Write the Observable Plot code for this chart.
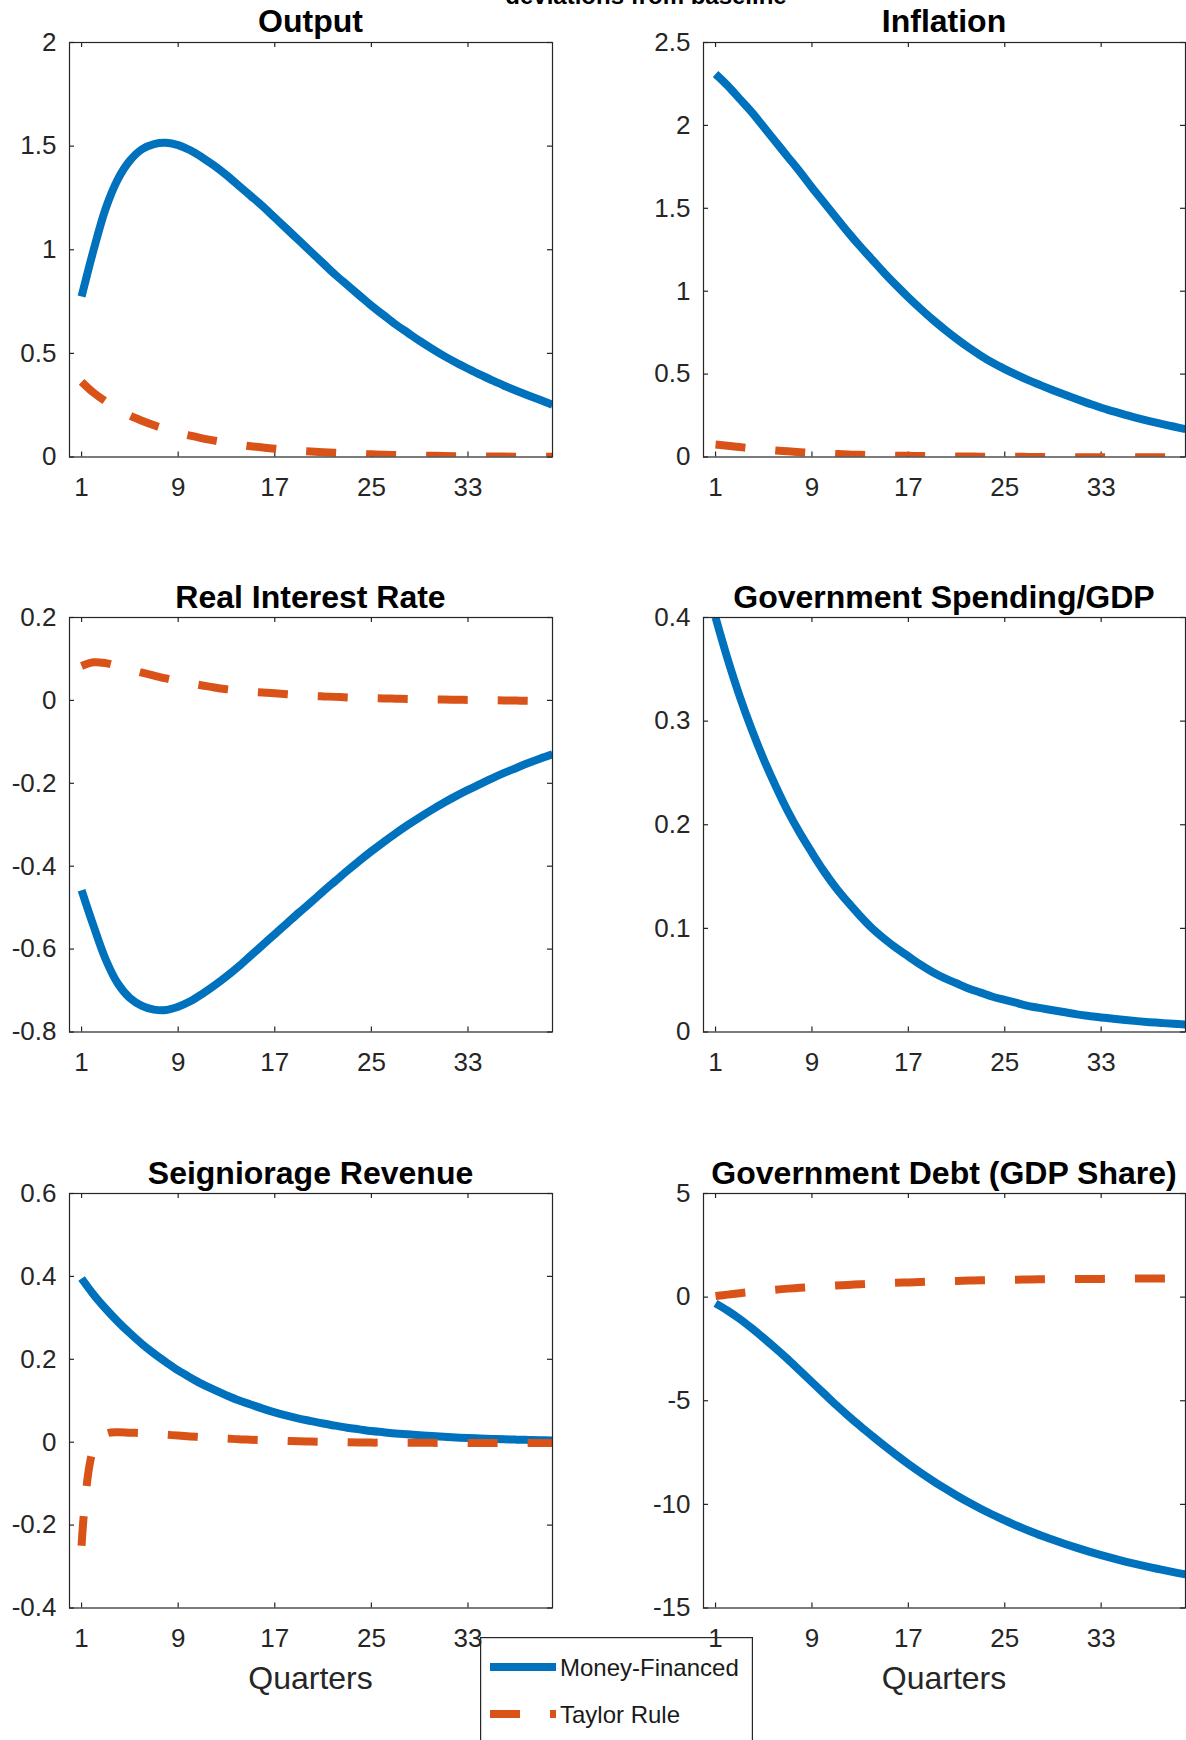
<!DOCTYPE html>
<html><head><meta charset="utf-8">
<script src="https://cdn.jsdelivr.net/npm/d3@7"></script>
<script src="https://cdn.jsdelivr.net/npm/@observablehq/plot@0.6"></script>
<style>
html,body{margin:0;padding:0;background:#fff;}
#fig{position:relative;width:1186px;height:1740px;overflow:hidden;background:#fff;}
</style></head><body><div id="fig"></div>
<script>
const quarters = [1,2,3,4,5,6,7,8,9,10,11,12,13,14,15,16,17,18,19,20,21,22,23,24,25,26,27,28,29,30,31,32,33,34,35,36,37,38,39,40];
const xTicks = [1, 9, 17, 25, 33];
const seriesNames = ["Money-Financed", "Taylor Rule"];
const panelTitles = ["Output", "Inflation", "Real Interest Rate", "Government Spending/GDP", "Seigniorage Revenue", "Government Debt (GDP Share)"];
const supTitle = "deviations from baseline";
const xLabel = "Quarters";

const outputMoney = [0.774,1.0,1.2,1.34,1.43,1.485,1.51,1.516,1.505,1.48,1.445,1.405,1.36,1.31,1.26,1.21,1.155,1.1,1.045,0.99,0.935,0.88,0.83,0.78,0.73,0.685,0.64,0.6,0.56,0.523,0.488,0.456,0.426,0.397,0.37,0.344,0.32,0.297,0.275,0.252];
const outputTaylor = [0.363,0.31,0.268,0.232,0.2,0.175,0.153,0.134,0.117,0.103,0.09,0.079,0.069,0.06,0.052,0.046,0.04,0.035,0.03,0.026,0.023,0.02,0.017,0.015,0.013,0.011,0.0095,0.008,0.007,0.006,0.005,0.0042,0.0035,0.003,0.0025,0.002,0.0016,0.0013,0.001,0.0008];
const outputTicks = [0, 0.5, 1, 1.5, 2];

const inflationMoney = [2.31,2.24,2.16,2.08,1.99,1.90,1.81,1.72,1.625,1.535,1.445,1.355,1.27,1.19,1.11,1.035,0.963,0.895,0.83,0.77,0.713,0.66,0.612,0.568,0.53,0.495,0.462,0.432,0.403,0.375,0.348,0.322,0.297,0.275,0.254,0.235,0.217,0.2,0.184,0.168];
const inflationTaylor = [0.075,0.068,0.06,0.052,0.045,0.039,0.034,0.029,0.025,0.021,0.018,0.015,0.013,0.011,0.009,0.008,0.007,0.006,0.005,0.004,0.003,0.003,0.002,0.002,0.001,0.001,0.0005,0,0,-0.0005,-0.001,-0.001,-0.001,-0.0015,-0.0015,-0.0015,-0.002,-0.002,-0.002,-0.002];
const inflationTicks = [0, 0.5, 1, 1.5, 2, 2.5];

const realMoney = [-0.458,-0.545,-0.625,-0.683,-0.718,-0.737,-0.746,-0.747,-0.739,-0.726,-0.708,-0.688,-0.666,-0.642,-0.616,-0.59,-0.564,-0.538,-0.512,-0.487,-0.461,-0.436,-0.411,-0.387,-0.364,-0.342,-0.321,-0.301,-0.282,-0.264,-0.247,-0.231,-0.216,-0.202,-0.188,-0.175,-0.163,-0.151,-0.14,-0.13];
const realTaylor = [0.083,0.092,0.09,0.083,0.075,0.067,0.06,0.053,0.047,0.041,0.036,0.031,0.027,0.024,0.021,0.019,0.017,0.015,0.013,0.011,0.0097,0.0085,0.0072,0.0062,0.0055,0.0048,0.0042,0.0036,0.003,0.0025,0.002,0.0016,0.0012,0.0008,0.0004,0,-0.0004,-0.0008,-0.001,-0.0012];
const realTicks = [-0.8, -0.6, -0.4, -0.2, 0, 0.2];

const spendingMoney = [0.400,0.360,0.324,0.292,0.263,0.237,0.213,0.192,0.173,0.155,0.139,0.125,0.112,0.1,0.09,0.081,0.073,0.065,0.058,0.052,0.047,0.042,0.038,0.034,0.031,0.028,0.025,0.023,0.021,0.019,0.017,0.0155,0.014,0.0128,0.0116,0.0105,0.0095,0.0087,0.0079,0.0072];
const spendingTicks = [0, 0.1, 0.2, 0.3, 0.4];

const seigMoney = [0.395,0.356,0.322,0.291,0.263,0.237,0.214,0.193,0.173,0.156,0.140,0.126,0.113,0.101,0.091,0.081,0.072,0.064,0.057,0.051,0.045,0.04,0.035,0.031,0.027,0.024,0.021,0.019,0.017,0.015,0.013,0.0115,0.01,0.009,0.008,0.007,0.0062,0.0055,0.0048,0.0042];
const seigTaylor = [-0.25,-0.015,0.02,0.024,0.023,0.022,0.02,0.018,0.016,0.014,0.012,0.01,0.009,0.007,0.006,0.005,0.004,0.003,0.002,0.0015,0.001,0.0005,0,-0.0005,-0.001,-0.001,-0.0012,-0.0014,-0.0015,-0.0016,-0.0017,-0.0018,-0.0018,-0.0019,-0.0019,-0.002,-0.002,-0.002,-0.002,-0.002];
const seigTicks = [-0.4, -0.2, 0, 0.2, 0.4, 0.6];

const debtMoney = [-0.3,-0.65,-1.05,-1.5,-1.98,-2.48,-3.0,-3.55,-4.1,-4.65,-5.2,-5.72,-6.22,-6.7,-7.17,-7.62,-8.05,-8.46,-8.85,-9.22,-9.57,-9.9,-10.21,-10.5,-10.77,-11.03,-11.27,-11.5,-11.71,-11.91,-12.1,-12.28,-12.45,-12.61,-12.76,-12.9,-13.03,-13.15,-13.27,-13.38];
const debtTaylor = [0.05,0.12,0.19,0.25,0.31,0.36,0.41,0.45,0.49,0.53,0.56,0.59,0.62,0.65,0.67,0.69,0.71,0.73,0.75,0.77,0.78,0.8,0.81,0.82,0.83,0.84,0.85,0.86,0.86,0.87,0.87,0.88,0.88,0.89,0.89,0.9,0.9,0.9,0.91,0.91];
const debtTicks = [-15, -10, -5, 0, 5];

const panels = [
  {money: outputMoney, taylor: outputTaylor, ticks: outputTicks},
  {money: inflationMoney, taylor: inflationTaylor, ticks: inflationTicks},
  {money: realMoney, taylor: realTaylor, ticks: realTicks},
  {money: spendingMoney, taylor: null, ticks: spendingTicks},
  {money: seigMoney, taylor: seigTaylor, ticks: seigTicks},
  {money: debtMoney, taylor: debtTaylor, ticks: debtTicks}
];

const BLUE = "#0072BD", ORANGE = "#D95319", AXIS = "#262626";
const FONT = '"Liberation Sans", Arial, Helvetica, sans-serif';
const cols = [{left: 69, w: 483, mL: 69, mR: 12}, {left: 703, w: 482, mL: 91, mR: 1}];
const rowTops = [41.7, 617, 1193];
const boxH = 414.5;
const mT = 8, mB = 50;

const fig = document.getElementById("fig");

// legend (drawn beneath the panels)
const leg = d3.select(fig).append("svg")
  .attr("width", 274).attr("height", 104)
  .style("position", "absolute").style("left", "480px").style("top", "1637px")
  .style("font-family", FONT);
leg.append("rect").attr("x", 0.6).attr("y", 0.6).attr("width", 271.8).attr("height", 200)
  .attr("fill", "#fff").attr("stroke", AXIS).attr("stroke-width", 1.2);
leg.append("line").attr("x1", 10).attr("x2", 76).attr("y1", 30).attr("y2", 30)
  .attr("stroke", BLUE).attr("stroke-width", 8);
leg.append("line").attr("x1", 10).attr("x2", 76).attr("y1", 77).attr("y2", 77)
  .attr("stroke", ORANGE).attr("stroke-width", 8).attr("stroke-dasharray", "30,30");
leg.append("text").attr("x", 80).attr("y", 38.6).attr("font-size", 24).attr("fill", "#1a1a1a").text(seriesNames[0]);
leg.append("text").attr("x", 80).attr("y", 85.6).attr("font-size", 24).attr("fill", "#1a1a1a").text(seriesNames[1]);

panels.forEach((p, i) => {
  const r = Math.floor(i / 2), c = i % 2;
  const col = cols[c];
  const rows = quarters.map((q, k) => ({q, money: p.money[k], taylor: p.taylor ? p.taylor[k] : null}));
  const tickStyle = {stroke: AXIS, strokeWidth: 1.2};
  const marks = [
    Plot.tickX(xTicks, {x: d => d, insetTop: boxH - 5, ...tickStyle}),
    Plot.tickX(xTicks, {x: d => d, insetBottom: boxH - 5, ...tickStyle}),
    Plot.tickY(p.ticks, {y: d => d, insetRight: col.w - 5, ...tickStyle}),
    Plot.tickY(p.ticks, {y: d => d, insetLeft: col.w - 5, ...tickStyle}),
    Plot.line(rows, {x: "q", y: "money", stroke: BLUE, strokeWidth: 8, curve: "catmull-rom", strokeLinecap: "butt", strokeLinejoin: "round", clip: true})
  ];
  if (p.taylor) marks.push(Plot.line(rows, {x: "q", y: "taylor", stroke: ORANGE, strokeWidth: 8, curve: "catmull-rom", strokeDasharray: "30,30", strokeLinecap: "butt", strokeLinejoin: "round", clip: true}));
  marks.push(Plot.frame({stroke: AXIS, strokeWidth: 1.2}));
  const svg = Plot.plot({
    width: col.mL + col.w + col.mR,
    height: mT + boxH + mB,
    marginLeft: col.mL, marginRight: col.mR, marginTop: mT, marginBottom: mB,
    style: {background: "none", fontFamily: FONT, fontSize: "26px", color: AXIS, overflow: "visible"},
    x: {domain: [0, 40], ticks: xTicks, tickSize: 0, tickPadding: 21, tickFormat: d => String(d), label: null},
    y: {domain: [p.ticks[0], p.ticks[p.ticks.length - 1]], ticks: p.ticks, tickSize: 0, tickPadding: 13, tickFormat: d => String(d), label: null},
    marks
  });
  svg.style.position = "absolute";
  svg.style.left = (col.left - col.mL) + "px";
  svg.style.top = (rowTops[r] - mT) + "px";
  svg.style.maxWidth = "none";
  fig.appendChild(svg);
});

// overlay texts: suptitle (clipped at the top edge as in the source figure), panel titles, x labels
const ov = d3.select(fig).append("svg")
  .attr("width", 1186).attr("height", 1740)
  .style("position", "absolute").style("left", "0px").style("top", "0px")
  .style("pointer-events", "none").style("font-family", FONT);
ov.append("text").attr("x", 646).attr("y", 4).attr("text-anchor", "middle")
  .attr("font-size", 24).attr("font-weight", "bold").attr("fill", "#000").text(supTitle);
panelTitles.forEach((t, i) => {
  const r = Math.floor(i / 2), c = i % 2;
  const cx = cols[c].left + cols[c].w / 2;
  ov.append("text").attr("x", cx).attr("y", rowTops[r] - 9.5).attr("text-anchor", "middle")
    .attr("font-size", 32).attr("font-weight", "bold").attr("fill", "#000").text(t);
});
cols.forEach(col => {
  ov.append("text").attr("x", col.left + col.w / 2).attr("y", 1689).attr("text-anchor", "middle")
    .attr("font-size", 32).attr("fill", AXIS).text(xLabel);
});
</script>
</body></html>
